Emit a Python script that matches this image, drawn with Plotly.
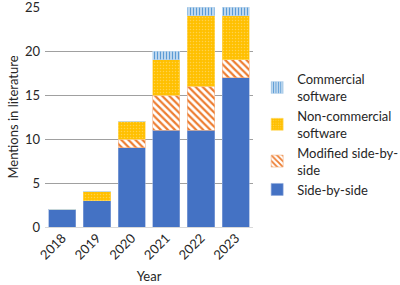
import plotly.graph_objects as go

years = ["2018", "2019", "2020", "2021", "2022", "2023"]
side_by_side = [2, 3, 9, 11, 11, 17]
modified_sbs = [0, 0, 1, 4, 5, 2]
non_commercial = [0, 1, 2, 4, 8, 5]
commercial = [0, 0, 0, 1, 1, 1]
y_ticks = [0, 5, 10, 15, 20, 25]

FONT = "Lato"
FS = 13
fig = go.Figure()
fig.add_trace(go.Bar(x=years, y=side_by_side, name="Side-by-side",
                     marker=dict(color="#4472C4", line=dict(color="#8FAADC", width=0.6))))
fig.add_trace(go.Bar(x=years, y=modified_sbs, name="Modified side-by-<br>side",
                     marker=dict(color="#ED7D31", line=dict(color="#F4B183", width=0.6),
                                 pattern=dict(shape="\\", fgcolor="#ED7D31", bgcolor="#FFFFFF",
                                              size=5, solidity=0.45, fillmode="replace"))))
fig.add_trace(go.Bar(x=years, y=non_commercial, name="Non-commercial<br>software",
                     marker=dict(color="#FFC000", line=dict(color="#FFD966", width=0.6),
                                 pattern=dict(shape=".", fgcolor="#FFD24D", bgcolor="#FFC000",
                                              size=3, solidity=0.2, fillmode="replace"))))
fig.add_trace(go.Bar(x=years, y=commercial, name="Commercial<br>software",
                     marker=dict(color="#5B9BD5", line=dict(color="#BDD7EE", width=0.6),
                                 pattern=dict(shape="|", fgcolor="#5B9BD5", bgcolor="#DEEBF7",
                                              size=3, solidity=0.5, fillmode="replace"))))

fig.update_layout(
    barmode="stack",
    bargap=0.22,
    width=400, height=285,
    margin=dict(l=45, r=147, t=7, b=58, autoexpand=False),
    paper_bgcolor="white", plot_bgcolor="white",
    font=dict(family=FONT, size=FS, color="#262626"),
    legend=dict(x=1.02, xanchor="left", y=0.42, yanchor="middle",
                traceorder="reversed", font=dict(size=FS, color="#262626"),
                itemwidth=30, tracegroupgap=2, bgcolor="rgba(0,0,0,0)",
                borderwidth=0),
    xaxis=dict(tickangle=-45, showgrid=False, showline=False, ticks="", automargin=False,
               title=dict(text="Year", font=dict(size=FS), standoff=10),
               tickfont=dict(size=FS)),
    yaxis=dict(range=[0, 25.02], tickmode="array", tickvals=y_ticks,
               showgrid=True, gridcolor="#A0A0A0", gridwidth=1,
               zeroline=True, zerolinecolor="#D9D9D9", zerolinewidth=1, showline=False,
               automargin=False, ticklabelstandoff=4, ticklabeloverflow="allow",
               title=dict(text="Mentions in literature", font=dict(size=FS), standoff=3),
               tickfont=dict(size=FS), ticks=""),
)
fig.write_html("out.html", config={"displayModeBar": False},
               post_script="document.body.style.margin='0';")
